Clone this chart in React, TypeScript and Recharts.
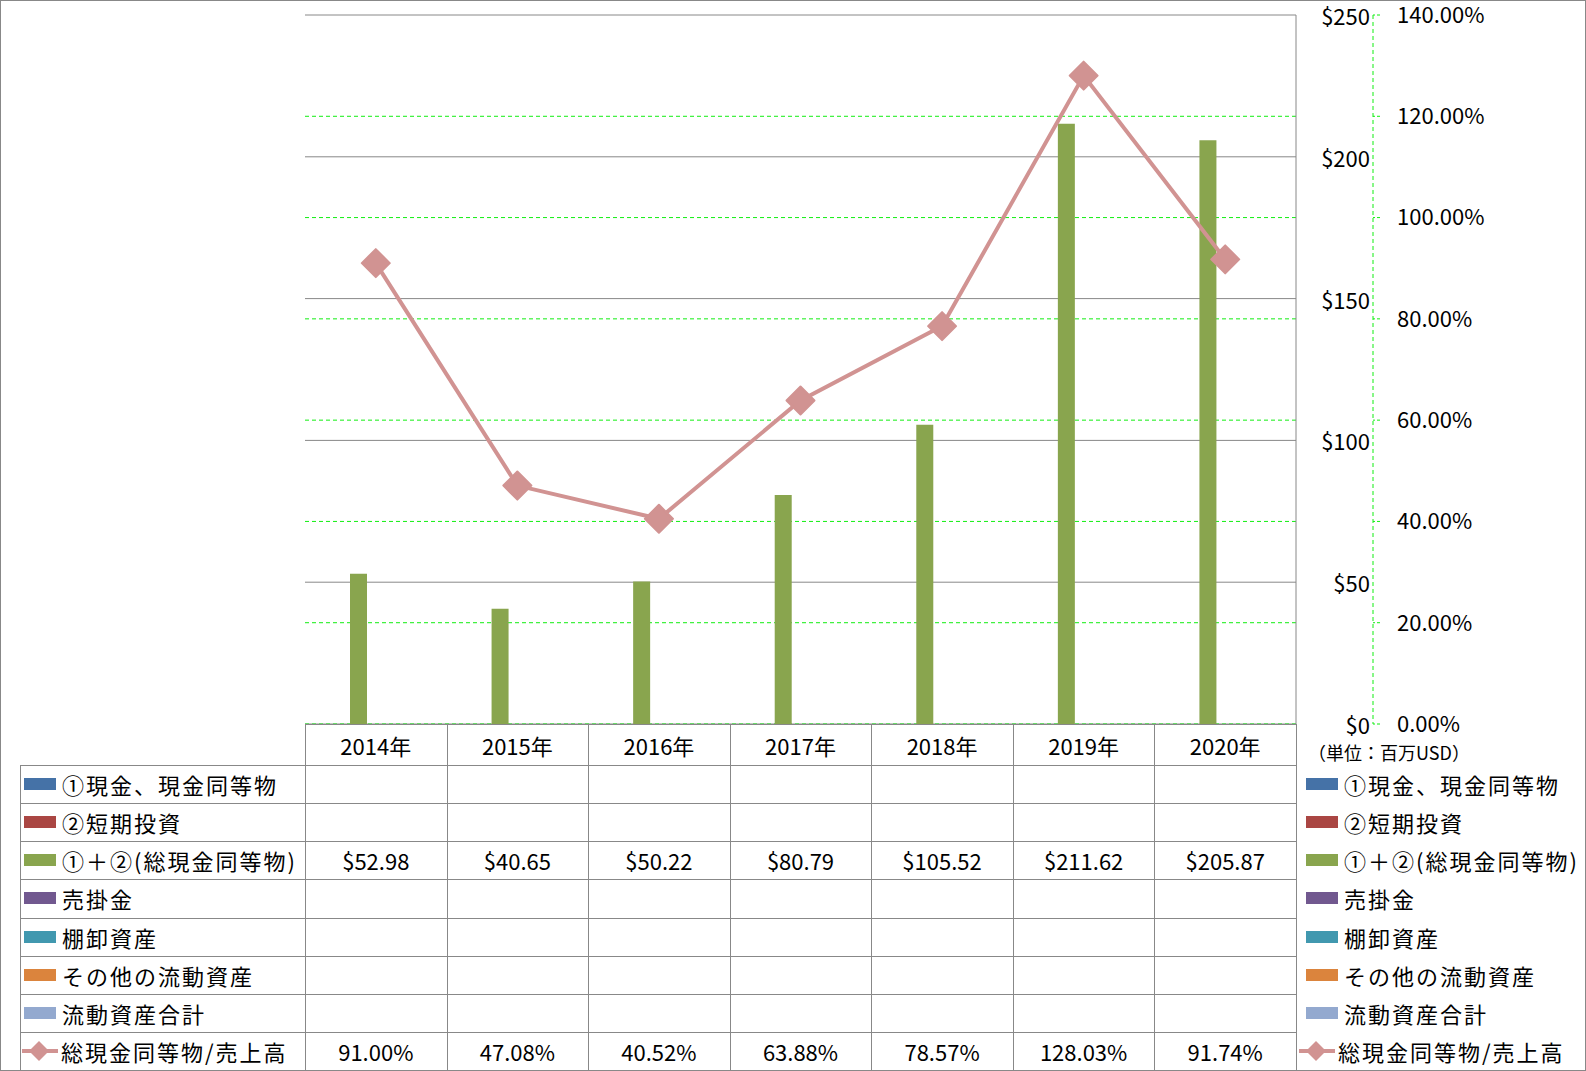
import React from "react";
import {
  ComposedChart, Bar, Line, XAxis, YAxis, CartesianGrid,
} from "recharts";

const years = ["2014年", "2015年", "2016年", "2017年", "2018年", "2019年", "2020年"];
const cashEq = [null, null, null, null, null, null, null];
const shortInv = [null, null, null, null, null, null, null];
const totalCash = [52.98, 40.65, 50.22, 80.79, 105.52, 211.62, 205.87];
const receivables = [null, null, null, null, null, null, null];
const inventory = [null, null, null, null, null, null, null];
const otherCurrent = [null, null, null, null, null, null, null];
const totalCurrent = [null, null, null, null, null, null, null];
const cashRatio = [91.0, 47.08, 40.52, 63.88, 78.57, 128.03, 91.74];

const usdTicks = [0, 50, 100, 150, 200, 250];
const pctTicks = [0, 20, 40, 60, 80, 100, 120, 140];
// green dashed lines only where no gray line sits on top
const pctGridTicks = [0, 20, 40, 60, 80, 100, 120];

const barSeries = [
  { key: "cashEq", name: "①現金、現金同等物", color: "#4572A7", values: cashEq },
  { key: "shortInv", name: "②短期投資", color: "#AA4643", values: shortInv },
  { key: "totalCash", name: "①＋②(総現金同等物)", color: "#89A54E", values: totalCash },
  { key: "receivables", name: "売掛金", color: "#71588F", values: receivables },
  { key: "inventory", name: "棚卸資産", color: "#4198AF", values: inventory },
  { key: "otherCurrent", name: "その他の流動資産", color: "#DB843D", values: otherCurrent },
  { key: "totalCurrent", name: "流動資産合計", color: "#93A9CF", values: totalCurrent },
];
const lineSeries = { key: "cashRatio", name: "総現金同等物/売上高", color: "#D19392", values: cashRatio };

const data = years.map((year, i) => {
  const row: any = { year };
  barSeries.forEach((s) => { row[s.key] = s.values[i]; });
  row[lineSeries.key] = cashRatio[i];
  return row;
});

const FONT = "'Noto Sans CJK JP', 'Noto Sans', sans-serif";
const GRID_GRAY = "#888888";
const GREEN = "#11EE11";

const USD = "a_usd";
const PCT = "b_pct";

const W = 1586;
const H = 1071;
const PLOT_LEFT = 305;
const PLOT_TOP = 15;
const PLOT_RIGHT = 1296;
const PLOT_BOTTOM = 724;
const USD_AXIS_W = 77;
const TABLE_LEFT = 20;
const HEADER_BOTTOM = 765;
const ROW_H = (H - 1 - HEADER_BOTTOM) / 8;
const COL_W = (PLOT_RIGHT - PLOT_LEFT) / years.length;

const fmtUsd = (v: number | null) => (v == null ? "" : `$${v.toFixed(2)}`);
const fmtPct = (v: number | null) => (v == null ? "" : `${v.toFixed(2)}%`);

const Diamond = (props: any) => {
  const { cx, cy } = props;
  if (cx == null || cy == null) return null;
  const r = 14;
  return (
    <polygon
      points={`${cx},${cy - r} ${cx + r},${cy} ${cx},${cy + r} ${cx - r},${cy}`}
      fill={lineSeries.color}
      stroke={lineSeries.color}
      strokeWidth={2}
      strokeLinejoin="round"
    />
  );
};

const UsdTick = ({ x, y, payload }: any) => (
  <text x={x + 74} y={y} textAnchor="end" dominantBaseline="central" fill="#000" fontSize={22} fontFamily={FONT}>
    {`$${payload.value}`}
  </text>
);

const Swatch = ({ color, isLine }: { color: string; isLine?: boolean }) =>
  isLine ? (
    <svg width={38} height={24} style={{ display: "block" }}>
      <line x1={1} y1={12} x2={37} y2={12} stroke={color} strokeWidth={4} />
      <polygon points="18,2 28,12 18,22 8,12" fill={color} />
    </svg>
  ) : (
    <div style={{ width: 32, height: 12, background: color, marginLeft: 4, marginRight: 2 }} />
  );

const labelStyle: React.CSSProperties = {
  fontSize: 22,
  letterSpacing: 2,
  whiteSpace: "nowrap",
  color: "#000",
  marginLeft: 4,
};

export default function App() {
  const rows = [
    ...barSeries.map((s) => ({ name: s.name, color: s.color, isLine: false, values: s.values.map(fmtUsd) })),
    { name: lineSeries.name, color: lineSeries.color, isLine: true, values: lineSeries.values.map(fmtPct) },
  ];

  const hLines: React.ReactNode[] = [];
  hLines.push(
    <div key="h-top" style={{ position: "absolute", left: PLOT_LEFT, top: PLOT_BOTTOM, width: PLOT_RIGHT - PLOT_LEFT + 1, height: 1, background: GRID_GRAY }} />
  );
  for (let r = 0; r < 8; r++) {
    hLines.push(
      <div key={`h-${r}`} style={{ position: "absolute", left: TABLE_LEFT, top: Math.round(HEADER_BOTTOM + r * ROW_H), width: PLOT_RIGHT - TABLE_LEFT + 1, height: 1, background: GRID_GRAY }} />
    );
  }
  const vLines: React.ReactNode[] = [];
  vLines.push(
    <div key="v-left" style={{ position: "absolute", left: TABLE_LEFT, top: HEADER_BOTTOM, width: 1, height: H - HEADER_BOTTOM, background: GRID_GRAY }} />
  );
  for (let c = 0; c <= years.length; c++) {
    vLines.push(
      <div key={`v-${c}`} style={{ position: "absolute", left: Math.round(PLOT_LEFT + c * COL_W), top: PLOT_BOTTOM, width: 1, height: H - PLOT_BOTTOM, background: GRID_GRAY }} />
    );
  }

  return (
    <div style={{ position: "absolute", left: 0, top: 0, width: W, height: H, background: "#fff", fontFamily: FONT, overflow: "hidden" }}>
      <div style={{ position: "absolute", left: 0, top: 0 }}>
        <ComposedChart
          width={W}
          height={H}
          data={data}
          margin={{ top: PLOT_TOP, right: 0, bottom: H - PLOT_BOTTOM, left: PLOT_LEFT }}
          barGap={0}
          barSize={17}
        >
          <CartesianGrid yAxisId={USD} vertical={false} stroke={GRID_GRAY} />
          <CartesianGrid
            yAxisId={PCT}
            vertical={false}
            stroke={GREEN}
            strokeDasharray="4 3"
            horizontalValues={pctGridTicks}
          />
          <XAxis dataKey="year" hide />
          <YAxis
            yAxisId={USD}
            orientation="right"
            width={USD_AXIS_W}
            domain={[0, 250]}
            ticks={usdTicks}
            axisLine={{ stroke: GRID_GRAY }}
            tickLine={false}
            tickSize={0}
            tickMargin={0}
            tick={<UsdTick />}
          />
          <YAxis
            yAxisId={PCT}
            orientation="right"
            width={W - PLOT_RIGHT - USD_AXIS_W}
            domain={[0, 140]}
            ticks={pctTicks}
            axisLine={{ stroke: GREEN, strokeDasharray: "4 3" }}
            tickLine={{ stroke: GREEN, strokeDasharray: "3 2" }}
            tickSize={7}
            tickMargin={17}
            tick={{ fill: "#000", fontSize: 22, fontFamily: FONT }}
            tickFormatter={(v: number) => `${v.toFixed(2)}%`}
          />
          {barSeries.map((s) => (
            <Bar key={s.key} yAxisId={USD} dataKey={s.key} name={s.name} fill={s.color} isAnimationActive={false} />
          ))}
          <Line
            yAxisId={PCT}
            type="linear"
            dataKey={lineSeries.key}
            name={lineSeries.name}
            stroke={lineSeries.color}
            strokeWidth={4}
            dot={<Diamond />}
            activeDot={false}
            isAnimationActive={false}
          />
        </ComposedChart>
      </div>

      {hLines}
      {vLines}

      {/* year header */}
      {years.map((y, i) => (
        <div key={y} style={{ position: "absolute", left: PLOT_LEFT + i * COL_W, top: PLOT_BOTTOM, width: COL_W, height: HEADER_BOTTOM - PLOT_BOTTOM, display: "flex", alignItems: "center", justifyContent: "center", fontSize: 22 }}>
          {y}
        </div>
      ))}

      {/* unit note */}
      <div style={{ position: "absolute", left: 1308, top: 740, fontSize: 18, whiteSpace: "nowrap", lineHeight: "24px" }}>
        （単位：百万USD）
      </div>

      {/* data table rows */}
      {rows.map((r, ri) => {
        const top = HEADER_BOTTOM + ri * ROW_H;
        return (
          <React.Fragment key={r.name}>
            <div style={{ position: "absolute", left: TABLE_LEFT + (r.isLine ? 1 : 0), top, height: ROW_H, display: "flex", alignItems: "center" }}>
              <Swatch color={r.color} isLine={r.isLine} />
              <span style={{ ...labelStyle, marginLeft: r.isLine ? 2 : 4 }}>{r.name}</span>
            </div>
            {r.values.map((v, ci) => (
              <div key={ci} style={{ position: "absolute", left: PLOT_LEFT + ci * COL_W, top, width: COL_W, height: ROW_H, display: "flex", alignItems: "center", justifyContent: "center", fontSize: 22 }}>
                {v}
              </div>
            ))}
            <div style={{ position: "absolute", left: PLOT_RIGHT + (r.isLine ? 2 : 6), top, height: ROW_H, display: "flex", alignItems: "center" }}>
              <Swatch color={r.color} isLine={r.isLine} />
              <span style={{ ...labelStyle, marginLeft: r.isLine ? 2 : 4 }}>{r.name}</span>
            </div>
          </React.Fragment>
        );
      })}

      <div style={{ position: "absolute", left: 0, top: 0, width: W, height: H, boxSizing: "border-box", border: `1px solid ${GRID_GRAY}`, pointerEvents: "none" }} />
    </div>
  );
}
